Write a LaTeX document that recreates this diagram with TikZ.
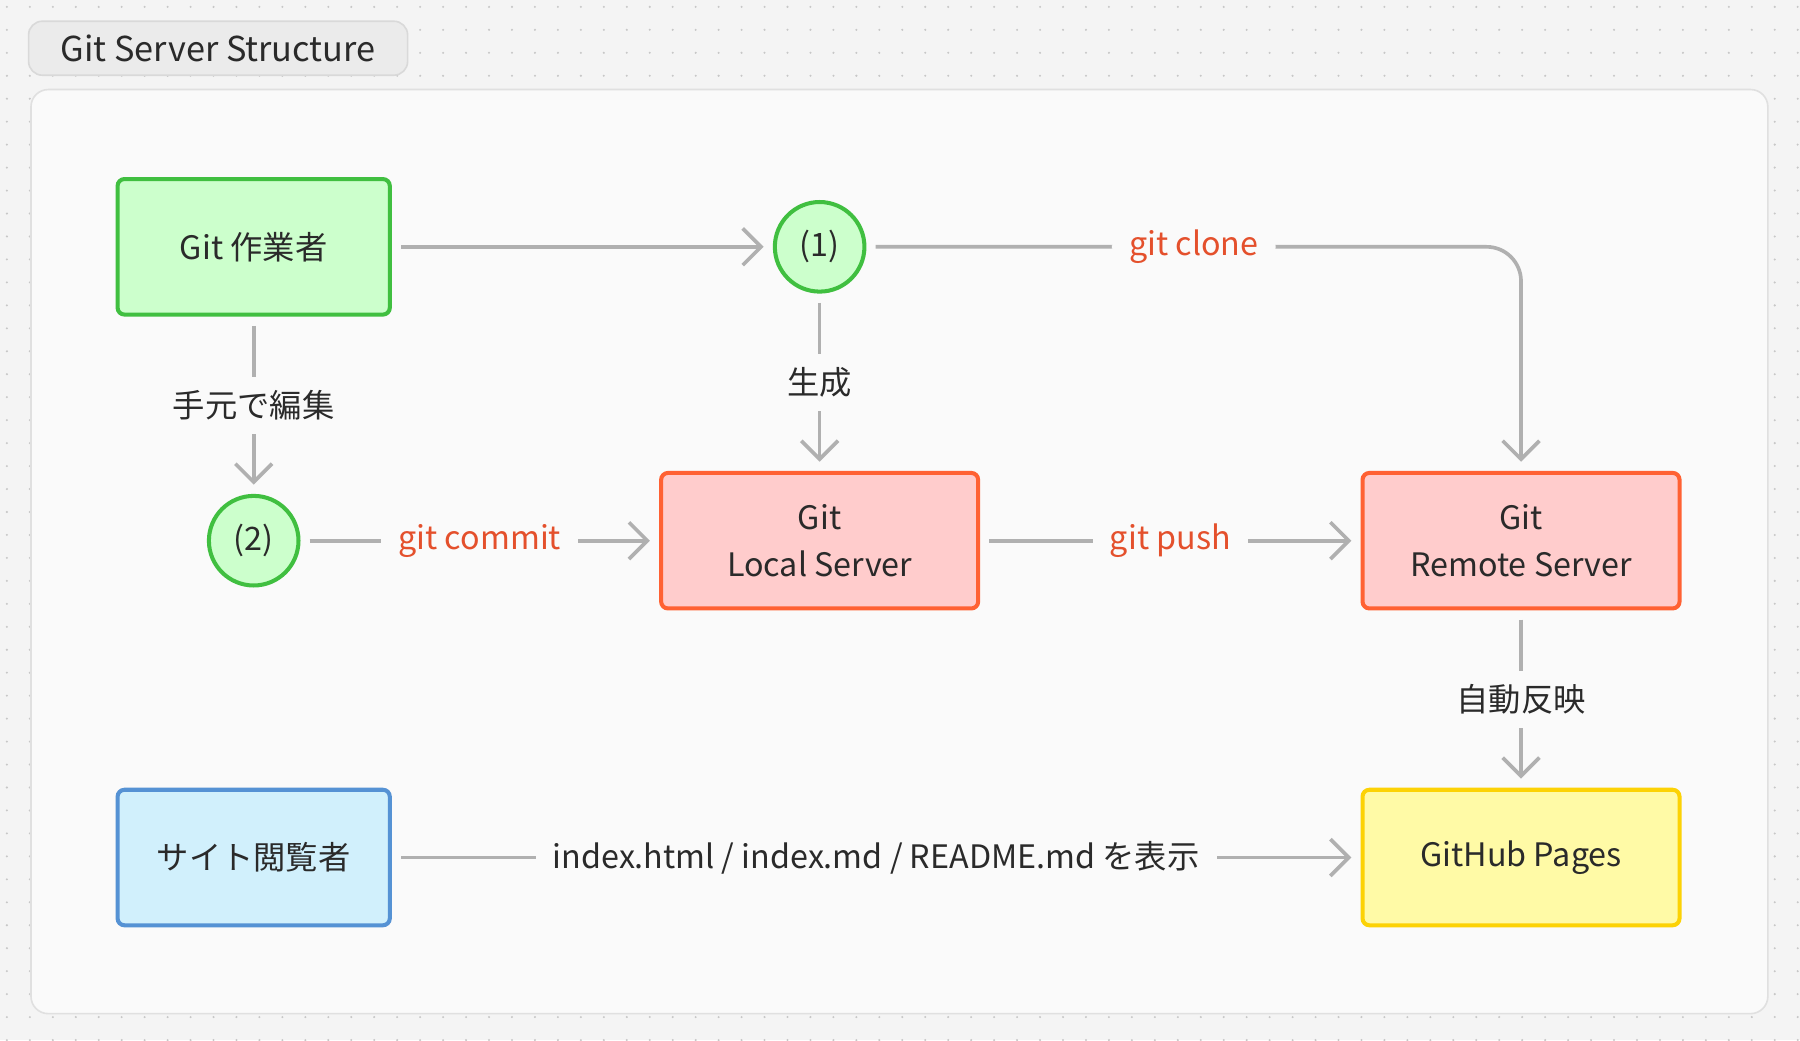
\documentclass[tikz,border=0pt]{standalone}
\usepackage{fontspec}
\setmainfont{Noto Sans CJK JP}
\usetikzlibrary{arrows.meta}
\definecolor{bgcol}{HTML}{F4F4F4}
\definecolor{panelcol}{HTML}{FAFAFA}
\definecolor{linecol}{HTML}{B0B0B0}
\definecolor{redtxt}{HTML}{E4502C}
\definecolor{txtcol}{HTML}{2A2A2A}
\begin{document}
\begin{tikzpicture}[x=0.01cm, y=-0.01cm,
    font=\fontsize{8}{10}\selectfont, text=txtcol,
    box/.style = {draw, line width=1pt, rounded corners=0.6mm, minimum width=2.37cm, minimum height=1.18cm, align=center},
    work/.style = {box, fill=green!20!white, draw=green!50!gray},
    serv/.style = {box, fill=red!20!white, draw=red!55!orange!80!white, minimum width=2.76cm},
    view/.style = {box, fill=cyan!18!white, draw=cyan!55!blue!70!white},
    pages/.style = {box, fill=yellow!35!white, draw=yellow!70!orange, minimum width=2.76cm},
    stage/.style = {draw=green!50!gray, fill=green!20!white, line width=1pt, circle, minimum size=0.78cm, inner sep=0pt},
    arr/.style = {draw=linecol, line width=0.9pt, -{Straight Barb[length=1.6mm, width=3.2mm]}, shorten <=0.08cm, shorten >=0.08cm},
    lbl/.style = {fill=panelcol, inner xsep=0.15cm},
    cmd/.style = {lbl, text=redtxt},
  ]
  % background and dot grid
  \fill[bgcol] (0,0) rectangle (1568,906);
  \useasboundingbox (0,0) rectangle (1568,906);
  \foreach \x in {6,26,...,1566}
    \foreach \y in {6,26,...,906}
      \fill[black!22] (\x,\y) circle (0.01cm);
  \node[draw=black!15, fill=black!8, rounded corners=1.2mm, minimum width=3.3cm, minimum height=0.47cm, font=\fontsize{8.5}{10}\selectfont] (title) at (190,42) {Git Server Structure};
  \draw[black!12, fill=panelcol, rounded corners=1.5mm] (27,78) rectangle (1540,883);

  % nodes
  \node[work] (worker) at (221,215) {Git 作業者};
  \node[stage] (one) at (714,215) {(1)};
  \node[stage] (two) at (221,471) {(2)};
  \node[serv] (local) at (714,471) {Git\\[0.5mm]Local Server};
  \node[serv] (remote) at (1325,471) {Git\\[0.5mm]Remote Server};
  \node[view] (viewer) at (221,747) {サイト閲覧者};
  \node[pages] (pages) at (1325,747) {GitHub Pages};
  \coordinate (corner) at (1325,215);

  % connectors
  \path[arr] (worker) -- (one);
  \path[arr, rounded corners=0.3cm] (one) -- node[cmd] {git clone} (corner) -- (remote);
  \path[arr] (one) -- node[lbl] {生成} (local);
  \path[arr] (worker) -- node[lbl] {手元で編集} (two);
  \path[arr] (two) -- node[cmd] {git commit} (local);
  \path[arr] (local) -- node[cmd] {git push} (remote);
  \path[arr] (remote) -- node[lbl] {自動反映} (pages);
  \path[arr] (viewer) -- node[lbl] {index.html / index.md / README.md を表示} (pages);
\end{tikzpicture}
\end{document}
